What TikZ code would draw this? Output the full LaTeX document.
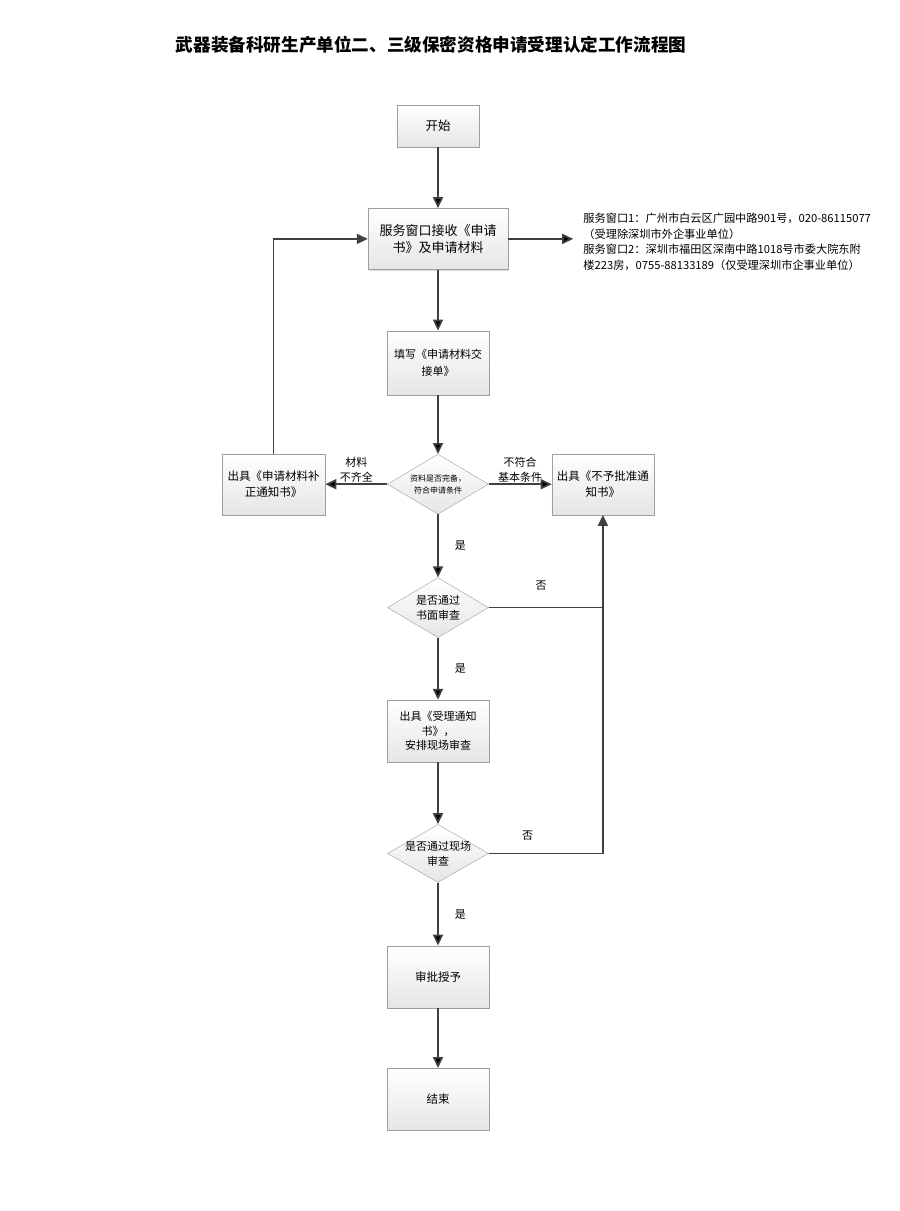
\documentclass[tikz,border=0pt]{standalone}
\usepackage{fontspec}
\setmainfont{Noto Sans CJK SC}
\usetikzlibrary{
        arrows.meta,
        positioning,
        shadows,
        shapes.geometric
    }
\tikzset{>={Triangle[length=11pt,width=10pt]},node distance=62pt}
\tikzset{
    box/.style={rectangle,draw=black!38,top color=white,bottom color=black!10,
        drop shadow={shadow xshift=1.2pt,shadow yshift=-1.2pt,opacity=0.25},
        minimum width=102pt,minimum height=62pt,inner sep=2pt,align=center,
        font=\fontsize{11.5}{16}\selectfont},
    decision/.style={diamond,draw=black!38,top color=white,bottom color=black!10,
        minimum width=101pt,minimum height=60pt,inner sep=0pt},
    dtext/.style={align=center,inner sep=0pt,font=\fontsize{11}{15}\selectfont},
    tag/.style={align=center,inner sep=1pt,font=\fontsize{11}{15}\selectfont},
    flow/.style={->,draw=black!75,line width=1.7pt}
}

\begin{document}
\begin{tikzpicture}[x=1pt,y=-1pt]
    \useasboundingbox (0,0) rectangle (900,1211);
    \node[font=\bfseries\fontsize{17.6}{20}\selectfont] (title) at (431,45)
        {武器装备科研生产单位二、三级保密资格申请受理认定工作流程图};
    % main column
    \node[box,minimum width=82pt,minimum height=42pt,font=\fontsize{12.5}{15}\selectfont] (start) at (438,126) {开始};
    \node[box,below=61pt of start,minimum width=140pt,minimum height=61pt,font=\fontsize{13}{17}\selectfont] (svc) {服务窗口接收《申请\\书》及申请材料};
    \node[box,below=61pt of svc,minimum height=64pt,font=\fontsize{11}{17}\selectfont] (fill) {填写《申请材料交\\接单》};
    \node[decision,below=59pt of fill,
        label={[dtext,font=\fontsize{8}{12}\selectfont]center:资料是否完备，\\符合申请条件}] (chk) {};
    \node[box,left=of chk,minimum width=103pt,minimum height=61pt] (supp) {出具《申请材料补\\正通知书》};
    \node[box,right=63pt of chk,minimum height=61pt] (rej) {出具《不予批准通\\知书》};
    \node[decision,below=63pt of chk,label={[dtext]center:是否通过\\书面审查}] (rev) {};
    \node[box,below=of rev,font=\fontsize{11}{14.5}\selectfont] (doc) {出具《受理通知\\书》，\\安排现场审查};
    \node[decision,below=of doc,minimum height=58pt,label={[dtext]center:是否通过现场\\审查}] (site) {};
    \node[box,below=63pt of site] (appr) {审批授予};
    \node[box,below=60pt of appr] (fin) {结束};
    % service window note
    \coordinate[right=65pt of svc] (out);
    \node[right=8pt of out,yshift=-3pt,align=left,inner sep=2pt,font=\fontsize{11.2}{15.5}\selectfont] (info)
        {服务窗口1：广州市白云区广园中路901号，020-86115077\\（受理除深圳市外企事业单位）\\服务窗口2：深圳市福田区深南中路1018号市委大院东附\\楼223房，0755-88133189（仅受理深圳市企事业单位）};
    \path[flow]
        (start) edge (svc)
        (svc)   edge (out)
        (svc)   edge (fill)
        (fill)  edge (chk)
        (chk)   edge node[tag,above] {材料\\不齐全} (supp)
        (chk)   edge node[tag,above] {不符合\\基本条件} (rej)
        (chk)   edge node[tag,right=15pt] {是} (rev)
        (rev)   edge node[tag,right=15pt] {是} (doc)
        (doc)   edge (site)
        (site)  edge node[tag,right=15pt] {是} (appr)
        (appr)  edge (fin)
        ;
    \draw[flow] (supp) |- (svc);
    \draw[flow,-] (rev) -- node[tag,pos=0.46,above=15pt] {否} (rev -| rej);
    \draw[flow] (site) -- node[tag,pos=0.34,above=11pt] {否} (site -| rej) -- (rej);
\end{tikzpicture}
\end{document}
